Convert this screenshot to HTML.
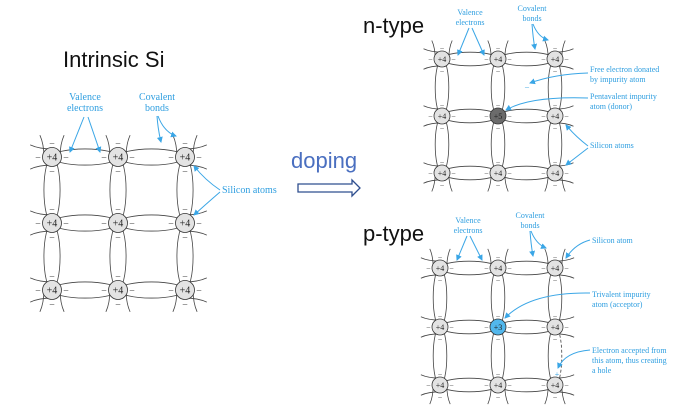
<!DOCTYPE html>
<html><head><meta charset="utf-8"><style>
html,body{margin:0;padding:0;background:#fff;width:683px;height:415px;overflow:hidden}
svg{display:block}
.t{font-family:"Liberation Sans","DejaVu Sans",sans-serif;fill:#111}
.l{font-family:"Liberation Serif",serif;fill:#2e9ee0}
.a{stroke:#3aa6e6;stroke-width:1;fill:none}
</style></head><body>
<svg id="s" width="683" height="415" viewBox="0 0 683 415" xmlns="http://www.w3.org/2000/svg">
<defs><marker id="ah" markerWidth="6" markerHeight="6" refX="5" refY="3" orient="auto"><path d="M0,0 L6,3 L0,6 z" fill="#3aa6e6"/></marker></defs>
<text class="t" x="63" y="67" font-size="22">Intrinsic Si</text>
<text class="t" x="363" y="33" font-size="22">n-type</text>
<text class="t" x="363" y="241" font-size="22">p-type</text>
<text x="291" y="168" font-size="22" fill="#4a6fc0" font-family="Liberation Sans,sans-serif">doping</text>
<path d="M298,184 H352 V180 L360,188 L352,196 V192 H298 Z" fill="#fff" stroke="#2f4f8f" stroke-width="1.3"/>
<g id="lat"></g>
<!-- left labels -->
<g class="l" font-size="10" text-anchor="middle">
<text x="85" y="100">Valence</text><text x="85" y="111">electrons</text>
<text x="157" y="100">Covalent</text><text x="157" y="111">bonds</text>
</g>
<text class="l" x="222" y="193" font-size="10">Silicon atoms</text>
<g class="a" marker-end="url(#ah)">
<path d="M84,117 L70,152"/><path d="M88,117 L100,152"/>
<path d="M157,116 Q158,130 161,142"/><path d="M158,116 Q164,132 176,136"/>
<path d="M220,190 Q205,180 194,166"/><path d="M220,192 Q205,205 194,215"/>
</g>
<!-- n labels -->
<g class="l" font-size="8" text-anchor="middle">
<text x="470" y="15">Valence</text><text x="470" y="25">electrons</text>
<text x="532" y="11">Covalent</text><text x="532" y="21">bonds</text>
</g>
<g class="l" font-size="8">
<text x="590" y="72">Free electron donated</text><text x="590" y="82">by impurity atom</text>
<text x="590" y="99">Pentavalent impurity</text><text x="590" y="109">atom (donor)</text>
<text x="590" y="148">Silicon atoms</text>
<text x="592" y="243">Silicon atom</text>
<text x="592" y="297">Trivalent impurity</text><text x="592" y="307">atom (acceptor)</text>
<text x="592" y="353">Electron accepted from</text><text x="592" y="363">this atom, thus creating</text><text x="592" y="373">a hole</text>
</g>
<g class="l" font-size="8" text-anchor="middle">
<text x="468" y="223">Valence</text><text x="468" y="233">electrons</text>
<text x="530" y="218">Covalent</text><text x="530" y="228">bonds</text>
</g>
<g class="a" marker-end="url(#ah)">
<path d="M469,28 L458,55"/><path d="M472,28 L484,55"/>
<path d="M532,24 Q533,38 535,49"/><path d="M533,24 Q538,37 548,40"/>
<path d="M588,73 Q555,74 530,83"/>
<path d="M588,98 Q530,96 506,110"/>
<path d="M588,146 Q575,136 566,125"/><path d="M588,148 Q575,158 566,165"/>
<path d="M467,236 L457,260"/><path d="M470,236 L482,260"/>
<path d="M530,231 Q531,245 533,256"/><path d="M531,231 Q536,244 546,248"/>
<path d="M590,240 Q575,244 566,258"/>
<path d="M590,293 Q530,292 505,318"/>
<path d="M590,350 Q565,352 558,368"/>
</g>
</svg>
<script>
var g=document.getElementById('lat'),NS='http://www.w3.org/2000/svg';
function el(n,a,t){var e=document.createElementNS(NS,n);for(var k in a)e.setAttribute(k,a[k]);if(t)e.textContent=t;g.appendChild(e);return e;}
function lat(xs,ys,r,fs,sp){
 var s=xs[1]-xs[0],h=r*0.85;
 for(var j=0;j<3;j++)for(var i=0;i<2;i++){
  el('ellipse',{cx:(xs[i]+xs[i+1])/2,cy:ys[j],rx:s/2,ry:h,fill:'none',stroke:'#444','stroke-width':0.8});
 }
 for(var i=0;i<3;i++)for(var j=0;j<2;j++){
  var dash=(sp.dash&&i==2&&j==1);
  if(dash){
   var cx=xs[i],cy=(ys[j]+ys[j+1])/2,ry=(ys[1]-ys[0])/2;
   el('path',{d:'M'+cx+','+(cy-ry)+' A'+h+','+ry+' 0 0 0 '+cx+','+(cy+ry),fill:'none',stroke:'#444','stroke-width':0.8});
   el('path',{d:'M'+cx+','+(cy-ry)+' A'+h+','+ry+' 0 0 1 '+cx+','+(cy+ry),fill:'none',stroke:'#444','stroke-width':0.8,'stroke-dasharray':'3,2'});
  } else el('ellipse',{cx:xs[i],cy:(ys[j]+ys[j+1])/2,rx:h,ry:(ys[1]-ys[0])/2,fill:'none',stroke:'#444','stroke-width':0.8});
 }
 var L=s*0.33;
 // stubs
 for(var j=0;j<3;j++){var y=ys[j];
  [[xs[0],-1],[xs[2],1]].forEach(function(p){
   el('path',{d:'M'+p[0]+','+(y-h)+' q'+(p[1]*L*0.6)+',0 '+(p[1]*L)+','+(-h*0.5)+' M'+p[0]+','+(y+h)+' q'+(p[1]*L*0.6)+',0 '+(p[1]*L)+','+(h*0.5),fill:'none',stroke:'#444','stroke-width':0.8});});}
 for(var i=0;i<3;i++){var x=xs[i];
  [[ys[0],-1],[ys[2],1]].forEach(function(p){
   el('path',{d:'M'+(x-h)+','+p[0]+' q0,'+(p[1]*L*0.6)+' '+(-h*0.5)+','+(p[1]*L)+' M'+(x+h)+','+p[0]+' q0,'+(p[1]*L*0.6)+' '+(h*0.5)+','+(p[1]*L),fill:'none',stroke:'#444','stroke-width':0.8});});}
 for(var j=0;j<3;j++)for(var i=0;i<3;i++){
  var x=xs[i],y=ys[j],lab='+4',fill='#e3e3e3';
  if(sp.c&&i==1&&j==1){lab=sp.c;fill=sp.cf;}
  el('circle',{cx:x,cy:y,r:r,fill:fill,stroke:'#333','stroke-width':0.8});
  el('text',{x:x,y:y+fs*0.35,'font-size':fs,'text-anchor':'middle','font-family':'Liberation Serif,serif',fill:'#222'},lab);
  var d=r+fs*0.45;
  [[-d,0],[d,0],[0,-d],[0,d]].forEach(function(o){
   if(sp.dash&&i==2&&j==2&&o[1]<0)return;
   el('text',{x:x+o[0],y:y+o[1]+fs*0.32,'font-size':fs*0.9,'text-anchor':'middle','font-family':'Liberation Serif,serif',fill:'#333'},'–');});
 }
}
lat([52,118,185],[157,223,290],9.5,10,{});
lat([442,498,555],[59,116,173],8,8,{c:'+5',cf:'#6b6b6b'});
lat([440,498,555],[268,327,385],8,8,{c:'+3',cf:'#52b7ec',dash:1});
el('text',{x:527,y:89,'font-size':8,'text-anchor':'middle','font-family':'Liberation Serif,serif',fill:'#2e9ee0'},'–');
el('text',{x:557,y:377,'font-size':8,'text-anchor':'middle','font-family':'Liberation Serif,serif',fill:'#2e9ee0'},'+');
</script>
</body></html>
